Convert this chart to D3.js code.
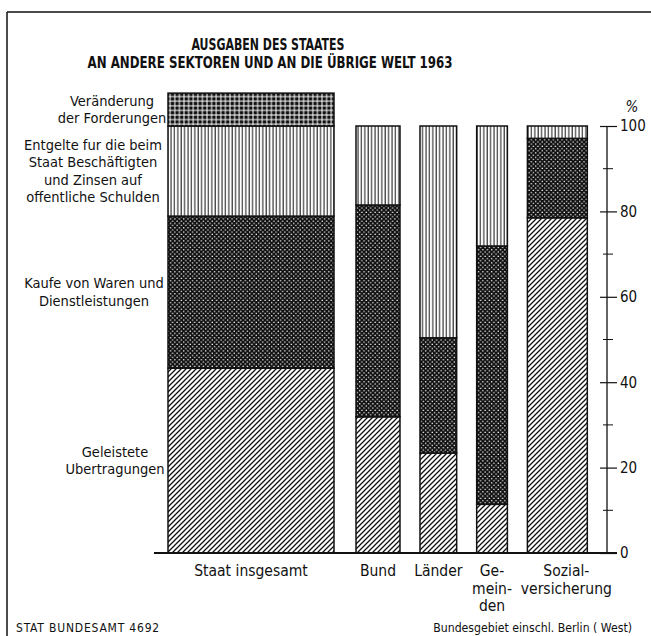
<!DOCTYPE html>
<html>
<head>
<meta charset="utf-8">
<script src="https://cdn.jsdelivr.net/npm/d3@7"></script>
<style>
  body { margin: 0; background: #fff; }
  text { font-family: "Liberation Sans Narrow", "DejaVu Sans Condensed", sans-serif; fill: #111; }
  .titel { font-family: "DejaVu Sans Condensed", sans-serif; font-weight: bold; font-size: 15px; }
</style>
</head>
<body>
<div id="chart"></div>
<script>
// Daten (Anteile in %)
var bereiche = ["Staat insgesamt", "Bund", "Länder", "Gemeinden", "Sozialversicherung"];
var volumen = [100, 26.5, 22.1, 18.5, 36.1];          // relative Breite der Säulen
var uebertragungen = [43.3, 31.9, 23.4, 11.4, 78.5];
var kaeufe = [35.6, 49.6, 27.0, 60.5, 18.6];
var entgelte = [21.1, 18.5, 49.6, 28.1, 2.9];
var veraenderung = [7.7, 0, 0, 0, 0];
var achsenTicks = [0, 20, 40, 60, 80, 100];

var W = 651, H = 636;

var svg = d3.select("#chart").append("svg")
    .attr("width", W).attr("height", H);

var defs = svg.append("defs");

// Schraffur: diagonale Linien
var p1 = defs.append("pattern").attr("id", "diag")
    .attr("patternUnits", "userSpaceOnUse").attr("width", 5).attr("height", 5);
p1.append("rect").attr("width", 5).attr("height", 5).attr("fill", "#fff");
p1.append("path").attr("d", "M-1,1 L1,-1 M0,5 L5,0 M4,6 L6,4")
    .attr("stroke", "#111").attr("stroke-width", 1.3);

// dunkles Kreuzraster mit weissen Punkten
var p2 = defs.append("pattern").attr("id", "kreuz")
    .attr("patternUnits", "userSpaceOnUse").attr("width", 4.4).attr("height", 4.4);
p2.append("rect").attr("width", 4.4).attr("height", 4.4).attr("fill", "#111");
p2.append("circle").attr("cx", 1.1).attr("cy", 1.1).attr("r", 0.75).attr("fill", "#fff");
p2.append("circle").attr("cx", 3.3).attr("cy", 3.3).attr("r", 0.75).attr("fill", "#fff");

// senkrechte Linien
var p3 = defs.append("pattern").attr("id", "senk")
    .attr("patternUnits", "userSpaceOnUse").attr("width", 3.4).attr("height", 10);
p3.append("rect").attr("width", 3.4).attr("height", 10).attr("fill", "#fff");
p3.append("line").attr("x1", 1).attr("x2", 1).attr("y1", 0).attr("y2", 10)
    .attr("stroke", "#111").attr("stroke-width", 1);

// Punktraster (schwarze Quadrate)
var p4 = defs.append("pattern").attr("id", "raster")
    .attr("patternUnits", "userSpaceOnUse").attr("width", 4.6).attr("height", 4.6);
p4.append("rect").attr("width", 4.6).attr("height", 4.6).attr("fill", "#fff");
p4.append("rect").attr("x", 0.5).attr("y", 0.5).attr("width", 3.6).attr("height", 3.6).attr("fill", "#111");

// Rahmen
svg.append("line").attr("x1", 7).attr("x2", 7).attr("y1", 12).attr("y2", H)
    .attr("stroke", "#111").attr("stroke-width", 1.5);
svg.append("line").attr("x1", 7).attr("x2", W).attr("y1", 12).attr("y2", 12)
    .attr("stroke", "#111").attr("stroke-width", 1.5);

// Titel
svg.append("text").attr("class", "titel").attr("x", 268).attr("y", 50)
    .attr("text-anchor", "middle").attr("textLength", 153).attr("lengthAdjust", "spacingAndGlyphs")
    .text("AUSGABEN DES STAATES");
svg.append("text").attr("class", "titel").attr("x", 270).attr("y", 68)
    .attr("text-anchor", "middle").attr("textLength", 365).attr("lengthAdjust", "spacingAndGlyphs")
    .text("AN ANDERE SEKTOREN UND AN DIE ÜBRIGE WELT 1963");

var y = d3.scaleLinear().domain([0, 100]).range([553, 126]);
var breite = d3.scaleLinear().domain([0, 100]).range([0, 166]);

// x-Positionen der Säulen
var xStart = [];
var xx = 168;
volumen.forEach(function(v, i) {
  xStart.push(xx);
  xx += breite(v) + (i === 0 ? 22 : 20);
});

var schichten = [
  {name: "uebertragungen", werte: uebertragungen, fill: "url(#diag)"},
  {name: "kaeufe", werte: kaeufe, fill: "url(#kreuz)"},
  {name: "entgelte", werte: entgelte, fill: "url(#senk)"},
  {name: "veraenderung", werte: veraenderung, fill: "url(#raster)"}
];

var segmente = [];
bereiche.forEach(function(b, i) {
  var basis = 0;
  schichten.forEach(function(s) {
    var v = s.werte[i];
    if (v > 0) segmente.push({bereich: i, s: s.name, y0: basis, y1: basis + v, fill: s.fill});
    basis += v;
  });
});

svg.selectAll(".seg").data(segmente).enter().append("rect")
    .attr("class", "seg")
    .attr("x", function(d) { return xStart[d.bereich]; })
    .attr("width", function(d) { return breite(volumen[d.bereich]); })
    .attr("y", function(d) { return y(d.y1); })
    .attr("height", function(d) { return y(d.y0) - y(d.y1); })
    .attr("fill", function(d) { return d.fill; })
    .attr("stroke", "#111").attr("stroke-width", 1.5);

// Grundlinie
svg.append("line").attr("x1", 154).attr("x2", 617).attr("y1", y(0)).attr("y2", y(0))
    .attr("stroke", "#111").attr("stroke-width", 2);

// Achse rechts
var achseX = 607;
var ax = svg.append("g").attr("transform", "translate(" + achseX + ",0)")
    .call(d3.axisRight(y).tickValues(achsenTicks).tickSize(10).tickPadding(3));
ax.select(".domain").remove();
ax.append("line").attr("x1", 0).attr("x2", 0).attr("y1", y(0)).attr("y2", y(100))
    .attr("stroke", "#111").attr("stroke-width", 1.3);
ax.selectAll(".tick line").attr("x1", -7).attr("stroke", "#111").attr("stroke-width", 1.2);
ax.selectAll(".tick text").attr("font-family", "Liberation Sans Narrow, DejaVu Sans Condensed, sans-serif")
    .attr("font-size", 15).attr("fill", "#111");
ax.selectAll(".minor").data([10, 30, 50, 70, 90]).enter().append("line")
    .attr("class", "minor")
    .attr("x1", -4).attr("x2", 6)
    .attr("y1", function(d) { return y(d); }).attr("y2", function(d) { return y(d); })
    .attr("stroke", "#111").attr("stroke-width", 1);
svg.append("text").attr("x", 632).attr("y", 112).attr("text-anchor", "middle")
    .attr("font-size", 15).attr("font-style", "italic").text("%");

// Beschriftung unter den Säulen
var unterText = [["Staat insgesamt"], ["Bund"], ["Länder"], ["Ge-", "mein-", "den"], ["Sozial-", "versicherung"]];
unterText.forEach(function(zeilen, i) {
  var cx = xStart[i] + breite(volumen[i]) / 2 + (i === 4 ? 9 : 0);
  zeilen.forEach(function(z, j) {
    svg.append("text").attr("x", cx).attr("y", 576 + j * 17.5)
        .attr("text-anchor", "middle").attr("font-size", 15.5).text(z);
  });
});

// Legende links (an den Segmenten der ersten Säule)
var legende = [
  {s: "veraenderung", cx: 112, zeilen: ["Veränderung", "der Forderungen"]},
  {s: "entgelte", cx: 93, zeilen: ["Entgelte fur die beim", "Staat Beschäftigten", "und Zinsen auf", "offentliche Schulden"]},
  {s: "kaeufe", cx: 94, zeilen: ["Kaufe von Waren und", "Dienstleistungen"]},
  {s: "uebertragungen", cx: 115, zeilen: ["Geleistete", "Ubertragungen"]}
];
legende.forEach(function(l) {
  var seg = segmente.filter(function(d) { return d.bereich === 0 && d.s === l.s; })[0];
  var mitte = (y(seg.y0) + y(seg.y1)) / 2;
  var lh = 17.3;
  var top = mitte - (l.zeilen.length - 1) * lh / 2;
  l.zeilen.forEach(function(z, j) {
    svg.append("text").attr("x", l.cx).attr("y", top + j * lh + 5)
        .attr("text-anchor", "middle").attr("font-size", 14.5).text(z);
  });
});

// Fusszeile
svg.append("text").attr("x", 16).attr("y", 632).attr("font-size", 12)
    .attr("font-family", "DejaVu Sans, sans-serif").attr("letter-spacing", 0.8)
    .text("STAT BUNDESAMT 4692");
svg.append("text").attr("x", 632).attr("y", 632).attr("text-anchor", "end").attr("font-size", 12.2)
    .text("Bundesgebiet einschl. Berlin ( West)");
</script>
</body>
</html>
